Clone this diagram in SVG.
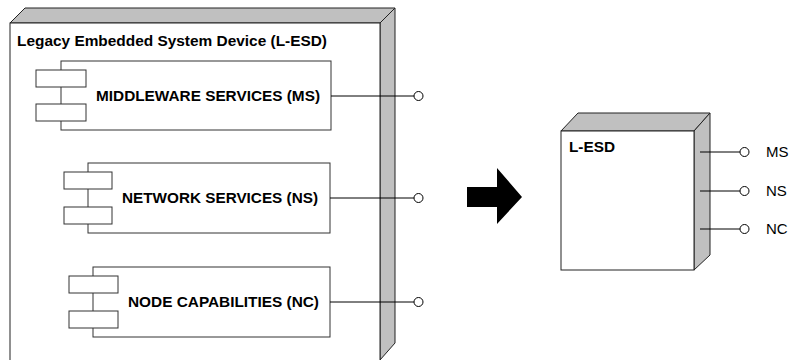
<svg xmlns="http://www.w3.org/2000/svg" width="790" height="360" viewBox="0 0 790 360">
<style>
.face{fill:#fff;stroke:#222;stroke-width:1}
.side{fill:#c0c0c0;stroke:#222;stroke-width:1}
.comp{fill:#fff;stroke:#333;stroke-width:1}
.t{font-family:"Liberation Sans",Arial,sans-serif;font-size:15.5px;font-weight:bold;fill:#000}
.r{font-family:"Liberation Sans",Arial,sans-serif;font-size:15px;fill:#000}
.ln{stroke:#000;stroke-width:1;fill:none}
.port{fill:#fff;stroke:#000;stroke-width:1}
</style>
<rect width="790" height="360" fill="#fff"/>
<g id="lesd-node">
<polygon class="side" points="10,23 25,8 395,8 380,23"/>
<polygon class="side" points="380,23 395,8 395,343 380,360"/>
<rect class="face" x="10" y="23" width="370" height="345"/>
<text class="t" x="17" y="46" textLength="310" lengthAdjust="spacingAndGlyphs">Legacy Embedded System Device (L-ESD)</text>
</g>
<g id="ms">
<rect class="comp" x="61" y="61" width="270" height="69"/>
<rect class="comp" x="36" y="70" width="50" height="17"/>
<rect class="comp" x="36" y="104" width="50" height="17"/>
<text class="t" x="96" y="101" textLength="224" lengthAdjust="spacingAndGlyphs">MIDDLEWARE SERVICES (MS)</text>
</g>
<g id="ns">
<rect class="comp" x="88" y="163" width="242" height="70"/>
<rect class="comp" x="64" y="172" width="48" height="17"/>
<rect class="comp" x="64" y="207" width="48" height="17"/>
<text class="t" x="122" y="203" textLength="196" lengthAdjust="spacingAndGlyphs">NETWORK SERVICES (NS)</text>
</g>
<g id="nc">
<rect class="comp" x="93" y="267" width="237" height="70"/>
<rect class="comp" x="69" y="276" width="49" height="17"/>
<rect class="comp" x="69" y="311" width="49" height="17"/>
<text class="t" x="128" y="307" textLength="191" lengthAdjust="spacingAndGlyphs">NODE CAPABILITIES (NC)</text>
</g>
<g id="arrow">
<polygon fill="#000" points="467,187 497,187 497,168 522,197 497,224 497,207 467,207"/>
</g>
<g id="lesd-small">
<polygon class="side" points="561,131 578,113 710,113 694,131"/>
<polygon class="side" points="694,131 710,113 710,255 694,270"/>
<rect class="face" x="561" y="131" width="133" height="139"/>
<text class="t" x="569" y="152" textLength="46" lengthAdjust="spacingAndGlyphs">L-ESD</text>
<text class="r" x="766" y="157">MS</text>
<text class="r" x="766" y="196">NS</text>
<text class="r" x="766" y="234">NC</text>
</g>
<g id="connectors">
<line class="ln" x1="331" y1="96" x2="414" y2="96"/>
<circle class="port" cx="418.5" cy="96" r="4.5"/>
<line class="ln" x1="330" y1="198" x2="414" y2="198"/>
<circle class="port" cx="418.5" cy="198" r="4.5"/>
<line class="ln" x1="330" y1="302" x2="414" y2="302"/>
<circle class="port" cx="418.5" cy="302" r="4.5"/>
<line class="ln" x1="700" y1="152" x2="740" y2="152"/>
<circle class="port" cx="744.5" cy="152" r="4.5"/>
<line class="ln" x1="700" y1="191" x2="740" y2="191"/>
<circle class="port" cx="744.5" cy="191" r="4.5"/>
<line class="ln" x1="700" y1="229" x2="740" y2="229"/>
<circle class="port" cx="744.5" cy="229" r="4.5"/>
</g>
</svg>
